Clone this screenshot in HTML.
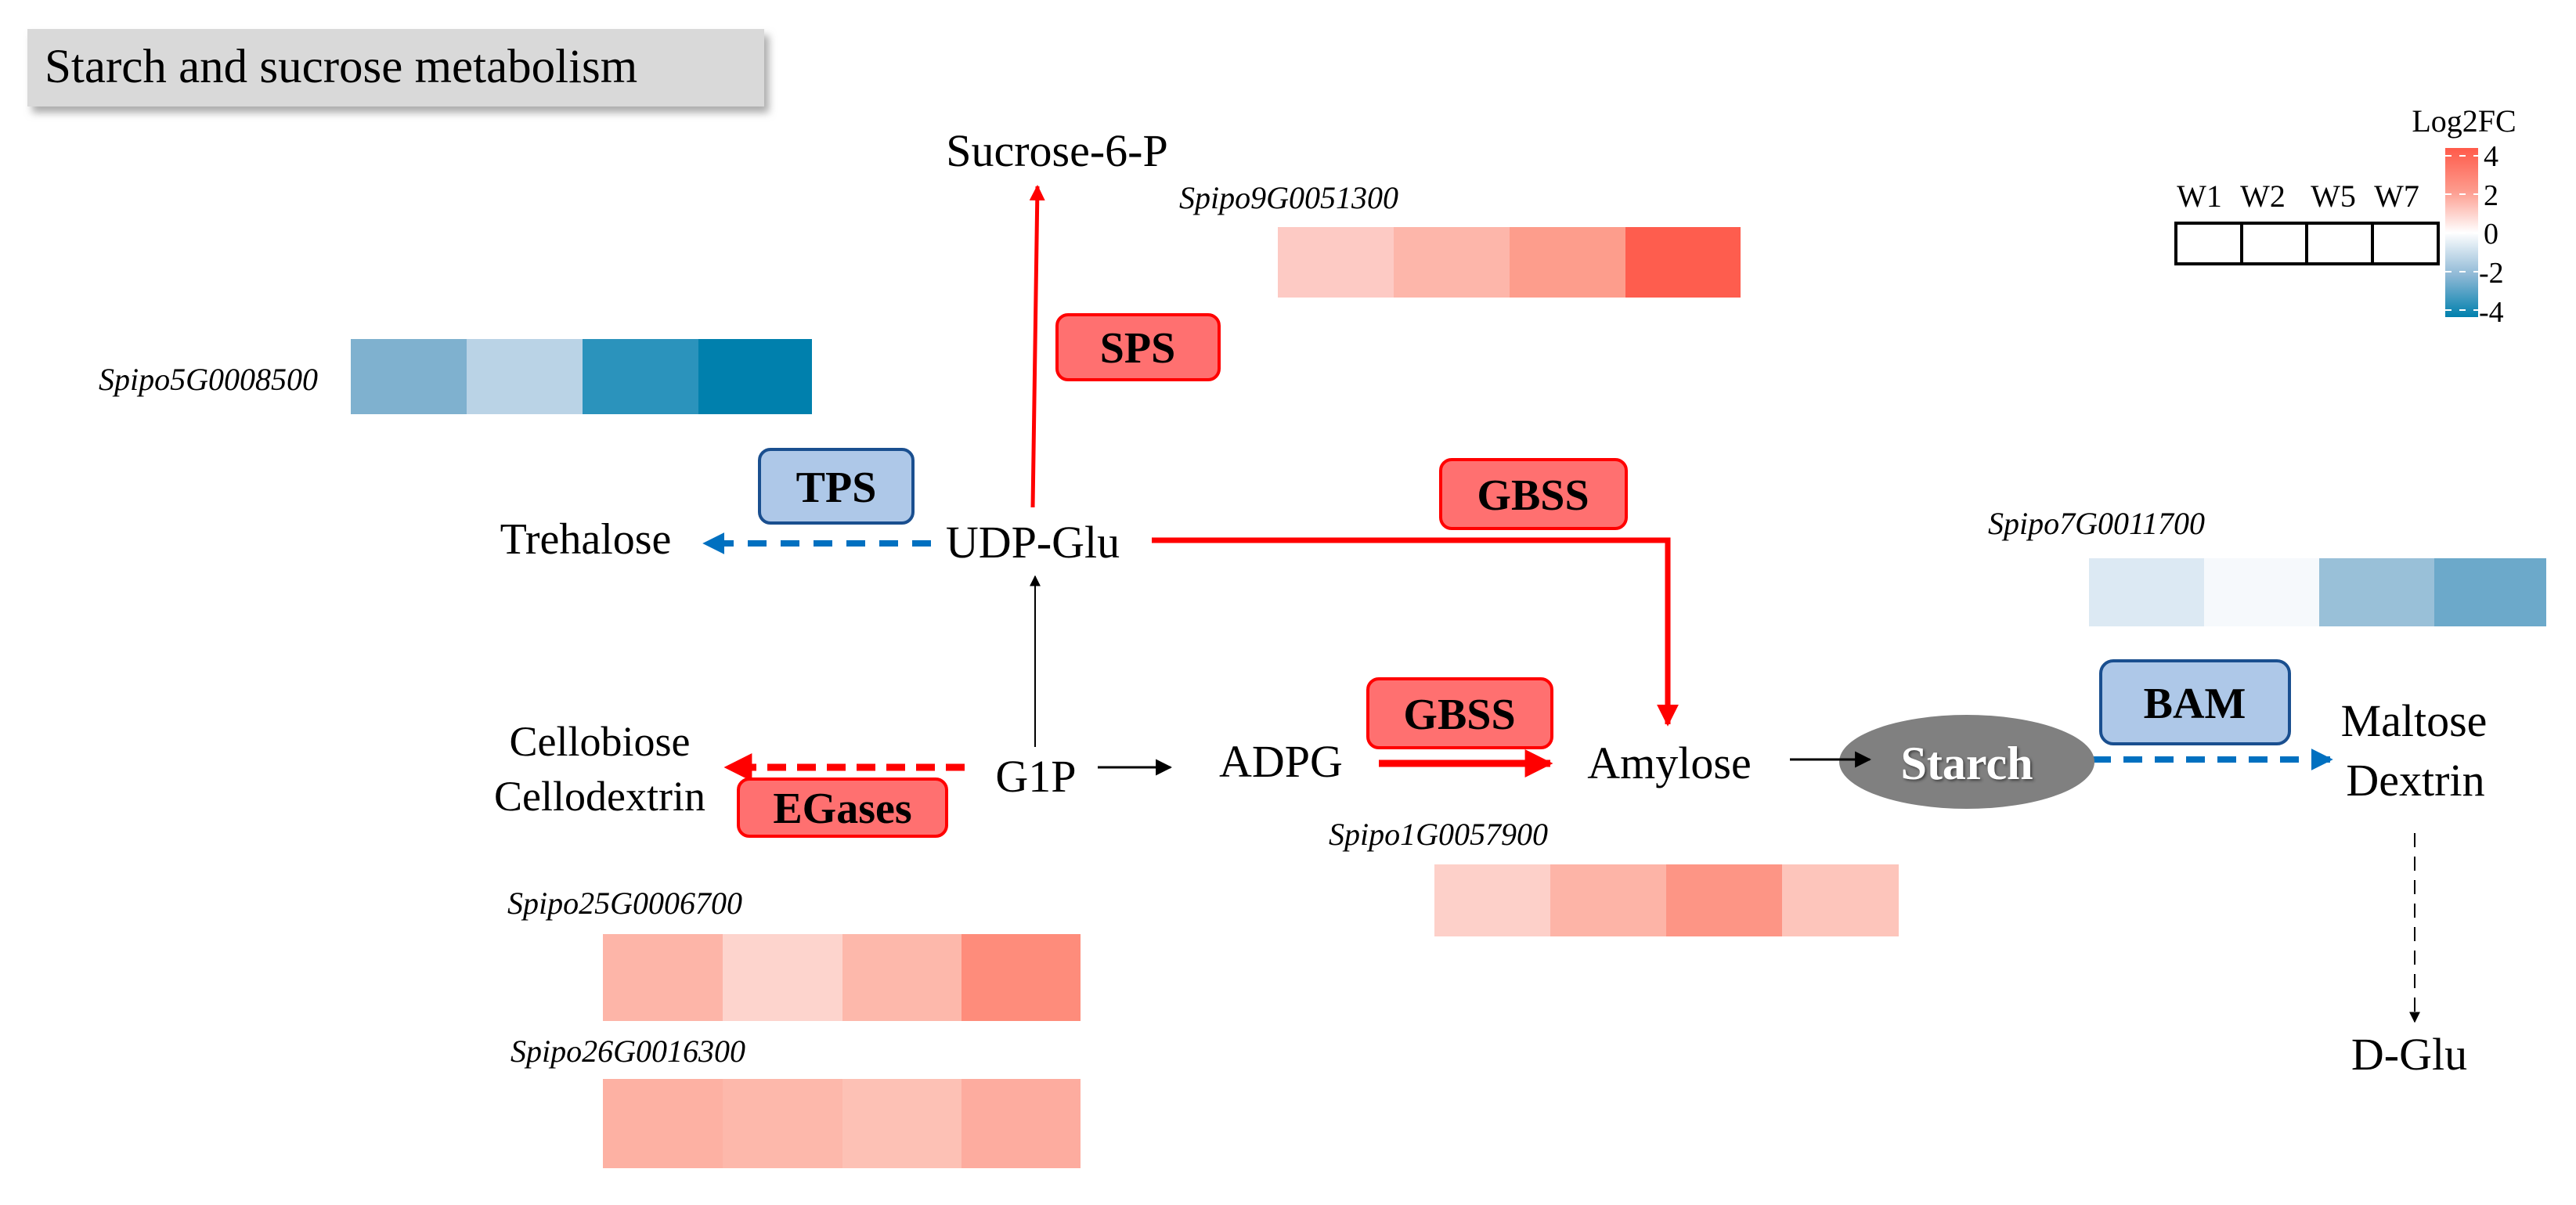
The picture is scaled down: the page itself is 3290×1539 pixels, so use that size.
<!DOCTYPE html>
<html><head><meta charset="utf-8"><style>
html,body{margin:0;padding:0;background:#fff;}
svg{display:block;}
text{font-family:"Liberation Serif","DejaVu Serif",serif;}
.l{font-size:58px;fill:#000;}
.g{font-family:"Liberation Serif","DejaVu Serif",serif;font-size:40px;font-style:italic;fill:#000;}
.b{font-size:56px;font-weight:bold;fill:#000;}
</style></head><body>
<svg width="3290" height="1539" viewBox="0 0 3290 1539" xmlns="http://www.w3.org/2000/svg">
<defs>
<marker id="ar" viewBox="0 0 10 10" refX="9" refY="5" markerWidth="4" markerHeight="4" orient="auto"><path d="M0,0L10,5L0,10z" fill="#ff0000"/></marker>
<marker id="ab" viewBox="0 0 10 10" refX="9" refY="5" markerWidth="3.5" markerHeight="3.5" orient="auto"><path d="M0,0L10,5L0,10z" fill="#0070c0"/></marker>
<marker id="ak" viewBox="0 0 10 10" refX="9" refY="5" markerWidth="7" markerHeight="7" orient="auto"><path d="M0,0L10,5L0,10z" fill="#000"/></marker>
<linearGradient id="cb" x1="0" y1="0" x2="0" y2="1">
<stop offset="0" stop-color="#ff5a4a"/><stop offset="0.25" stop-color="#fd9a8c"/><stop offset="0.5" stop-color="#ffffff"/><stop offset="0.75" stop-color="#8fb9d6"/><stop offset="1" stop-color="#0080ad"/>
</linearGradient>
<filter id="sh" x="-10%" y="-10%" width="130%" height="140%"><feDropShadow dx="6" dy="8" stdDeviation="5" flood-color="#888" flood-opacity="0.7"/></filter>
<filter id="ts"><feDropShadow dx="2" dy="2" stdDeviation="1.5" flood-color="#333" flood-opacity="0.8"/></filter>
</defs>

<rect x="35" y="37" width="941" height="99" fill="#d9d9d9" filter="url(#sh)"/>
<text x="57" y="105" style="font-size:61px">Starch and sucrose metabolism</text>

<text x="3147" y="168" text-anchor="middle" style="font-size:40px">Log2FC</text>
<rect x="3123" y="189" width="42" height="216" fill="url(#cb)"/>
<g stroke="#fff" stroke-width="2" stroke-dasharray="8,10">
<line x1="3123" y1="199" x2="3165" y2="199"/><line x1="3123" y1="248" x2="3165" y2="248"/><line x1="3123" y1="298" x2="3165" y2="298"/><line x1="3123" y1="347" x2="3165" y2="347"/><line x1="3123" y1="396" x2="3165" y2="396"/>
</g>
<g style="font-size:38px">
<text x="3172" y="212">4</text><text x="3172" y="262">2</text><text x="3172" y="311">0</text><text x="3166" y="361">-2</text><text x="3166" y="411">-4</text>
</g>
<g style="font-size:40px" text-anchor="middle">
<text x="2809" y="264">W1</text><text x="2890" y="264">W2</text><text x="2980" y="264">W5</text><text x="3061" y="264">W7</text>
</g>
<g fill="none" stroke="#000" stroke-width="4">
<rect x="2779" y="285" width="335" height="52"/>
<line x1="2863" y1="285" x2="2863" y2="337"/><line x1="2946" y1="285" x2="2946" y2="337"/><line x1="3030" y1="285" x2="3030" y2="337"/>
</g>

<text x="1506" y="266" class="g">Spipo9G0051300</text>
<rect x="1632" y="290" width="148" height="90" fill="#fdcac4"/><rect x="1780" y="290" width="148" height="90" fill="#fdb6aa"/><rect x="1928" y="290" width="148" height="90" fill="#fd9d8c"/><rect x="2076" y="290" width="147" height="90" fill="#fe5d4e"/>

<text x="126" y="498" class="g">Spipo5G0008500</text>
<rect x="448" y="433" width="148" height="96" fill="#7fb1cf"/><rect x="596" y="433" width="148" height="96" fill="#bad3e6"/><rect x="744" y="433" width="148" height="96" fill="#2b93bc"/><rect x="892" y="433" width="145" height="96" fill="#0080ad"/>

<text x="2539" y="682" class="g">Spipo7G0011700</text>
<rect x="2668" y="713" width="147" height="87" fill="#dce9f3"/><rect x="2815" y="713" width="147" height="87" fill="#f6f9fc"/><rect x="2962" y="713" width="147" height="87" fill="#99c0d8"/><rect x="3109" y="713" width="143" height="87" fill="#6ca9ca"/>

<text x="1697" y="1079" class="g">Spipo1G0057900</text>
<rect x="1832" y="1104" width="148" height="92" fill="#fdd0c9"/><rect x="1980" y="1104" width="148" height="92" fill="#fdb4a7"/><rect x="2128" y="1104" width="148" height="92" fill="#fd9585"/><rect x="2276" y="1104" width="149" height="92" fill="#fdc5bb"/>

<text x="648" y="1167" class="g">Spipo25G0006700</text>
<rect x="770" y="1193" width="153" height="111" fill="#fdb5a8"/><rect x="923" y="1193" width="153" height="111" fill="#fdd4cd"/><rect x="1076" y="1193" width="152" height="111" fill="#fdb8ab"/><rect x="1228" y="1193" width="152" height="111" fill="#fe8c7b"/>

<text x="652" y="1356" class="g">Spipo26G0016300</text>
<rect x="770" y="1378" width="153" height="114" fill="#fdb1a3"/><rect x="923" y="1378" width="153" height="114" fill="#fdb8ab"/><rect x="1076" y="1378" width="152" height="114" fill="#fdc1b5"/><rect x="1228" y="1378" width="152" height="114" fill="#fdac9f"/>

<line x1="1319" y1="648" x2="1325" y2="238" stroke="#ff0000" stroke-width="5" marker-end="url(#ar)"/>
<polyline points="1471,690 2130,690 2130,925" fill="none" stroke="#ff0000" stroke-width="7" marker-end="url(#ar)"/>
<line x1="1189" y1="694" x2="900" y2="694" stroke="#0070c0" stroke-width="8" stroke-dasharray="24,18" marker-end="url(#ab)"/>
<line x1="1322" y1="954" x2="1322" y2="736" stroke="#000" stroke-width="2" marker-end="url(#ak)"/>
<line x1="1232" y1="980" x2="928" y2="980" stroke="#ff0000" stroke-width="9" stroke-dasharray="24,14" marker-end="url(#ar)"/>
<line x1="1402" y1="980" x2="1495" y2="980" stroke="#000" stroke-width="3" marker-end="url(#ak)"/>
<line x1="1761" y1="975" x2="1980" y2="975" stroke="#ff0000" stroke-width="9" marker-end="url(#ar)"/>
<line x1="2672" y1="970" x2="2977" y2="970" stroke="#0070c0" stroke-width="8" stroke-dasharray="24,16" marker-end="url(#ab)"/>
<line x1="3084" y1="1064" x2="3084" y2="1305" stroke="#000" stroke-width="2" stroke-dasharray="18,12" marker-end="url(#ak)"/>

<rect x="1350" y="402" width="207" height="83" rx="14" fill="#ff7070" stroke="#ff0000" stroke-width="4"/>
<text x="1453" y="463" class="b" text-anchor="middle">SPS</text>
<rect x="970" y="574" width="196" height="94" rx="14" fill="#aec8e8" stroke="#1a4f8f" stroke-width="4"/>
<text x="1068" y="641" class="b" text-anchor="middle">TPS</text>
<rect x="1840" y="587" width="237" height="88" rx="14" fill="#ff7070" stroke="#ff0000" stroke-width="4"/>
<text x="1958" y="651" class="b" text-anchor="middle">GBSS</text>
<rect x="1747" y="867" width="235" height="88" rx="14" fill="#ff7070" stroke="#ff0000" stroke-width="4"/>
<text x="1864" y="931" class="b" text-anchor="middle">GBSS</text>
<rect x="943" y="995" width="266" height="73" rx="14" fill="#ff7070" stroke="#ff0000" stroke-width="4"/>
<text x="1076" y="1051" class="b" text-anchor="middle">EGases</text>
<rect x="2683" y="844" width="241" height="106" rx="16" fill="#aec8e8" stroke="#1a4f8f" stroke-width="4"/>
<text x="2803" y="917" class="b" text-anchor="middle">BAM</text>

<ellipse cx="2512" cy="973" rx="163" ry="60" fill="#808080"/>
<text x="2512" y="995" text-anchor="middle" filter="url(#ts)" style="font-size:60px;font-weight:bold;fill:#fff">Starch</text>
<line x1="2286" y1="970" x2="2388" y2="970" stroke="#000" stroke-width="3" marker-end="url(#ak)"/>

<g class="l">
<text x="1350" y="212" text-anchor="middle" class="l">Sucrose-6-P</text>
<text x="748" y="707" text-anchor="middle" class="l" style="font-size:56px">Trehalose</text>
<text x="1319" y="712" text-anchor="middle" class="l">UDP-Glu</text>
<text x="766" y="965" text-anchor="middle" class="l" style="font-size:54px">Cellobiose</text>
<text x="766" y="1035" text-anchor="middle" class="l" style="font-size:54px">Cellodextrin</text>
<text x="1323" y="1011" text-anchor="middle" class="l">G1P</text>
<text x="1636" y="992" text-anchor="middle" class="l">ADPG</text>
<text x="2132" y="994" text-anchor="middle" class="l">Amylose</text>
<text x="3083" y="940" text-anchor="middle" class="l">Maltose</text>
<text x="3085" y="1016" text-anchor="middle" class="l">Dextrin</text>
<text x="3077" y="1366" text-anchor="middle" class="l">D-Glu</text>
</g>
</svg>
</body></html>
